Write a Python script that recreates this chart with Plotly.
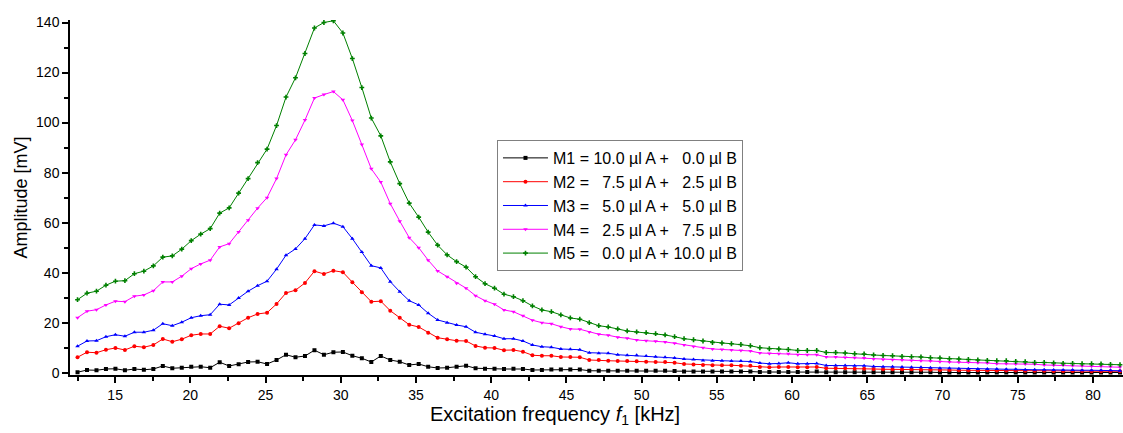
import plotly.graph_objects as go

# === DATA ===
freq_khz = [
    12.50, 13.13, 13.76, 14.39, 15.02, 15.65, 16.28, 16.91, 17.54, 18.17,
    18.80, 19.43, 20.06, 20.69, 21.32, 21.95, 22.58, 23.21, 23.84, 24.47,
    25.10, 25.73, 26.36, 26.99, 27.62, 28.25, 28.88, 29.51, 30.14, 30.77,
    31.40, 32.03, 32.66, 33.29, 33.92, 34.55, 35.18, 35.81, 36.44, 37.07,
    37.70, 38.33, 38.96, 39.59, 40.22, 40.85, 41.48, 42.11, 42.74, 43.37,
    44.00, 44.63, 45.26, 45.89, 46.52, 47.15, 47.78, 48.41, 49.04, 49.67,
    50.30, 50.93, 51.56, 52.19, 52.82, 53.45, 54.08, 54.71, 55.34, 55.97,
    56.60, 57.23, 57.86, 58.49, 59.12, 59.75, 60.38, 61.01, 61.64, 62.27,
    62.90, 63.53, 64.16, 64.79, 65.42, 66.05, 66.68, 67.31, 67.94, 68.57,
    69.20, 69.83, 70.46, 71.09, 71.72, 72.35, 72.98, 73.61, 74.24, 74.87,
    75.50, 76.13, 76.76, 77.39, 78.02, 78.65, 79.28, 79.91, 80.54, 81.17,
    81.80,
]

m1 = [
    0.2, 1.1, 1.0, 1.5, 1.6, 1.0, 1.5, 1.2, 1.5, 2.7,
    1.8, 2.0, 2.4, 2.4, 2.0, 4.2, 2.7, 3.4, 4.3, 4.4,
    3.5, 5.1, 7.2, 6.2, 6.7, 9.0, 7.2, 8.2, 8.3, 6.8,
    5.8, 4.3, 6.7, 5.1, 4.4, 3.1, 3.5, 2.4, 1.9, 2.0,
    2.4, 2.8, 1.8, 1.6, 1.6, 1.5, 1.6, 1.5, 1.1, 1.1,
    1.3, 1.3, 1.3, 1.3, 0.8, 0.8, 0.8, 0.8, 0.8, 0.8,
    0.8, 0.8, 0.8, 0.7, 0.5, 0.5, 0.5, 0.5, 0.5, 0.5,
    0.5, 0.5, 0.3, 0.3, 0.3, 0.3, 0.3, 0.3, 0.5, 0.2,
    0.2, 0.2, 0.2, 0.2, 0.2, 0.2, 0.2, 0.2, 0.2, 0.2,
    0.2, 0.1, 0.1, 0.1, 0.1, 0.1, 0.1, 0.1, 0.1, 0.1,
    0.1, 0.1, 0.1, 0.1, 0.1, 0.1, 0.1, 0.1, 0.1, 0.1,
    0.1,
]

m2 = [
    6.2, 8.2, 8.0, 9.2, 9.9, 9.1, 10.6, 10.2, 11.1, 13.5,
    12.4, 13.4, 15.0, 15.5, 15.5, 18.6, 17.8, 19.8, 22.0, 23.5,
    24.0, 27.5, 31.9, 33.0, 35.9, 40.6, 39.5, 40.8, 40.2, 36.2,
    32.2, 28.4, 28.6, 24.8, 22.0, 19.2, 18.3, 16.0, 14.0, 13.4,
    12.8, 12.7, 10.7, 10.0, 9.9, 9.0, 9.1, 8.4, 7.0, 6.8,
    6.8, 6.3, 6.3, 6.2, 5.1, 5.1, 4.8, 4.7, 4.7, 4.6,
    4.4, 4.3, 4.3, 4.0, 3.5, 3.3, 3.1, 3.0, 3.0, 3.0,
    2.8, 2.8, 2.3, 2.2, 2.3, 2.3, 2.2, 2.2, 2.3, 1.8,
    1.8, 1.8, 1.6, 1.6, 1.5, 1.4, 1.4, 1.4, 1.4, 1.2,
    1.2, 1.1, 1.1, 1.0, 1.0, 1.0, 1.0, 0.9, 0.9, 0.9,
    0.8, 0.8, 0.8, 0.7, 0.7, 0.7, 0.7, 0.6, 0.6, 0.6,
    0.6,
]

m3 = [
    10.6, 12.7, 12.8, 14.4, 15.2, 14.6, 16.2, 16.2, 17.0, 19.6,
    18.8, 20.2, 22.0, 22.8, 23.2, 27.4, 27.1, 29.9, 32.6, 34.8,
    36.6, 41.4, 47.0, 49.5, 53.6, 59.1, 58.7, 59.8, 58.4, 53.6,
    48.3, 42.8, 41.9, 36.4, 32.4, 28.8, 27.1, 23.8, 21.1, 20.0,
    19.1, 18.4, 16.2, 15.4, 14.7, 13.6, 13.6, 12.7, 11.1, 10.4,
    10.2, 9.5, 9.4, 9.2, 8.0, 7.8, 7.8, 7.2, 7.0, 7.0,
    6.7, 6.4, 6.2, 5.9, 5.5, 5.3, 4.9, 4.8, 4.8, 4.7,
    4.7, 4.5, 3.9, 3.6, 3.7, 4.0, 3.6, 3.6, 3.7, 2.9,
    2.9, 2.9, 2.8, 2.8, 2.5, 2.4, 2.4, 2.3, 2.2, 2.2,
    2.0, 1.8, 1.8, 1.6, 1.6, 1.5, 1.5, 1.5, 1.4, 1.4,
    1.2, 1.2, 1.2, 1.1, 1.1, 1.1, 1.0, 1.0, 1.0, 1.0,
    0.8,
]

m4 = [
    22.0, 24.6, 25.2, 27.1, 28.6, 28.4, 30.6, 31.1, 32.8, 36.3,
    36.3, 38.6, 41.6, 43.5, 45.0, 50.3, 51.6, 56.3, 61.0, 65.8,
    70.0, 77.6, 87.1, 93.1, 101.0, 109.8, 111.2, 112.4, 109.1, 100.8,
    91.2, 81.5, 76.2, 67.6, 60.6, 54.0, 50.0, 45.0, 40.7, 38.4,
    35.8, 33.8, 30.8, 28.8, 27.4, 25.1, 24.4, 22.8, 21.0, 20.0,
    19.6, 18.4, 17.5, 17.4, 16.3, 15.4, 15.0, 14.2, 13.8, 13.1,
    12.8, 12.6, 12.3, 11.8, 11.1, 10.5, 10.0, 9.5, 9.3, 9.1,
    8.9, 8.7, 7.9, 7.7, 7.6, 7.6, 7.2, 7.2, 7.2, 6.3,
    6.3, 6.1, 6.0, 5.9, 5.5, 5.3, 5.2, 5.1, 4.9, 4.8,
    4.7, 4.4, 4.3, 4.2, 4.2, 4.0, 3.9, 3.6, 3.6, 3.5,
    3.5, 3.4, 3.1, 3.0, 3.0, 2.8, 2.7, 2.6, 2.6, 2.4,
    2.2,
]

m5 = [
    29.2, 31.8, 32.6, 35.0, 36.6, 36.8, 39.6, 40.6, 42.7, 46.2,
    46.7, 49.4, 52.8, 55.4, 57.6, 63.8, 65.9, 71.8, 77.6, 84.0,
    89.4, 98.8, 110.2, 117.9, 127.6, 137.8, 140.0, 140.7, 135.8, 125.6,
    114.0, 101.8, 94.7, 84.3, 75.6, 67.8, 62.2, 56.2, 51.0, 47.1,
    44.4, 42.2, 38.4, 35.6, 33.8, 31.4, 30.4, 28.8, 26.7, 25.1,
    24.4, 23.1, 21.9, 21.4, 20.0, 18.8, 18.3, 17.5, 16.7, 16.3,
    16.0, 15.6, 15.1, 14.4, 13.6, 13.2, 12.7, 12.1, 11.9, 11.6,
    11.3, 10.8, 10.0, 9.6, 9.5, 9.3, 8.9, 8.9, 8.9, 8.1,
    8.1, 7.9, 7.6, 7.5, 7.1, 6.9, 6.8, 6.5, 6.4, 6.3,
    6.0, 5.9, 5.6, 5.5, 5.3, 5.1, 4.9, 4.8, 4.8, 4.5,
    4.4, 4.1, 4.1, 3.9, 3.7, 3.7, 3.6, 3.6, 3.5, 3.3,
    3.2,
]

nb = "\u00a0"
labels = [
    "M1 = 10.0 µl A +" + nb * 3 + "0.0 µl B",
    "M2 =" + nb * 3 + "7.5 µl A +" + nb * 3 + "2.5 µl B",
    "M3 =" + nb * 3 + "5.0 µl A +" + nb * 3 + "5.0 µl B",
    "M4 =" + nb * 3 + "2.5 µl A +" + nb * 3 + "7.5 µl B",
    "M5 =" + nb * 3 + "0.0 µl A + 10.0 µl B",
]

series = [m1, m2, m3, m4, m5]
colors = ["#000000", "#ff0000", "#0000ff", "#ff00ff", "#008000"]
symbols = ["square", "circle", "triangle-up", "triangle-down", "cross"]

FONT = "Liberation Sans"

fig = go.Figure()
for vals, name, col, sym in zip(series, labels, colors, symbols):
    fig.add_trace(go.Scatter(
        x=freq_khz, y=vals, mode="lines+markers", name=name,
        line=dict(color=col, width=1),
        marker=dict(color=col, symbol=sym, size=4),
    ))

fig.update_layout(
    width=1123, height=433,
    margin=dict(l=70, r=0, t=20, b=58),
    paper_bgcolor="white", plot_bgcolor="white",
    font=dict(family=FONT, size=14, color="black"),
    showlegend=True,
    legend=dict(
        x=0.4055, y=0.662, xanchor="left", yanchor="top",
        bgcolor="white", bordercolor="#808080", borderwidth=1,
        font=dict(family=FONT, size=16, color="black"),
        tracegroupgap=0, itemwidth=45,
    ),
)

fig.update_xaxes(
    range=[12, 82], showgrid=False, zeroline=False,
    showline=True, linecolor="black", linewidth=1.5,
    ticks="outside", ticklen=6, tickwidth=1.5, tickcolor="black",
    tick0=0, dtick=5,
    minor=dict(ticks="outside", ticklen=4, tickwidth=1.5, tickcolor="black", dtick=2.5, tick0=0),
    tickfont=dict(family=FONT, size=14),
)
fig.update_yaxes(
    range=[-0.9, 141], showgrid=False, zeroline=False,
    showline=True, linecolor="black", linewidth=1.5,
    ticks="outside", ticklen=6, tickwidth=1.5, tickcolor="black",
    tick0=0, dtick=20,
    minor=dict(ticks="outside", ticklen=4, tickwidth=1.5, tickcolor="black", dtick=10, tick0=0),
    tickfont=dict(family=FONT, size=14),
)

fig.add_annotation(
    text="Excitation frequency <i>f</i><sub>1</sub> [kHz]",
    xref="paper", yref="paper", x=0.4606, y=0, yshift=-40,
    xanchor="center", yanchor="middle", showarrow=False,
    font=dict(family=FONT, size=20),
)
fig.add_annotation(
    text="Amplitude [mV]", textangle=-90,
    xref="paper", yref="paper", x=0, y=0.5, xshift=-50,
    xanchor="center", yanchor="middle", showarrow=False,
    font=dict(family=FONT, size=18),
)

fig.write_html("out.html", config={"displayModeBar": False},
               post_script="document.body.style.margin='0';")
